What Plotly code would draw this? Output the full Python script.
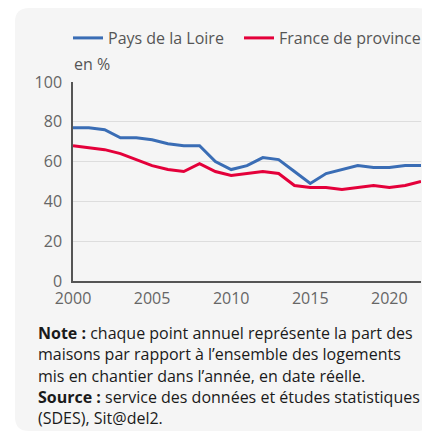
import plotly.graph_objects as go

# data (share of houses in housing starts, %)
years = list(range(2000, 2023))
pays_de_la_loire = [77, 77, 76, 72, 72, 71, 69, 68, 68, 60, 56, 58, 62, 61,
                    55, 49, 54, 56, 58, 57, 57, 58, 58]
france_province = [68, 67, 66, 64, 61, 58, 56, 55, 59, 55, 53, 54, 55, 54,
                   48, 47, 47, 46, 47, 48, 47, 48, 50]

y_ticks = [0, 20, 40, 60, 80, 100]
x_ticks = [2000, 2005, 2010, 2015, 2020]

note_lines = [
    "<b>Note :</b> chaque point annuel représente la part des",
    "maisons par rapport à l’ensemble des logements",
    "mis en chantier dans l’année, en date réelle.",
    "<b>Source :</b> service des données et études statistiques",
    "(SDES), Sit@del2.",
]

# the page puts the figure 8px in from the top-left corner
OFF = 8
W, H = 430, 432
L, T = 73 - OFF, 82 - OFF
R, B = W - (421 - OFF), H - (281 - OFF)
pw, ph = W - L - R, H - T - B


def px_x(x):
    # screen pixel -> paper x
    return (x - OFF - L) / pw


def px_y(y):
    # screen pixel -> paper y
    return (H - B - (y - OFF)) / ph


FONT = "Open Sans"
BLUE = "#3a6db5"
RED = "#e4003a"

fig = go.Figure()
fig.add_trace(go.Scatter(x=years, y=pays_de_la_loire, name="Pays de la Loire",
                         mode="lines", line=dict(color=BLUE, width=3),
                         legend="legend"))
fig.add_trace(go.Scatter(x=years, y=france_province, name="France de province",
                         mode="lines", line=dict(color=RED, width=3),
                         legend="legend2"))

# rounded grey panel behind everything
x0, x1 = px_x(15), px_x(431)
y0, y1 = px_y(431), px_y(8)
rx, ry = 14 / pw, 14 / ph
panel = (f"M {x0+rx},{y1} L {x1-rx},{y1} Q {x1},{y1} {x1},{y1-ry} "
         f"L {x1},{y0+ry} Q {x1},{y0} {x1-rx},{y0} L {x0+rx},{y0} "
         f"Q {x0},{y0} {x0},{y0+ry} L {x0},{y1-ry} Q {x0},{y1} {x0+rx},{y1} Z")
fig.add_shape(type="path", path=panel, xref="paper", yref="paper",
              fillcolor="#f5f5f5", line_width=0, layer="below")

annotations = [dict(text="en %", x=px_x(72), y=px_y(64), xref="paper",
                    yref="paper", xanchor="left", yanchor="middle",
                    showarrow=False, font=dict(family=FONT, size=16,
                                               color="#555555"))]
for i, line in enumerate(note_lines):
    annotations.append(dict(text=line, x=px_x(36), y=px_y(333 + i * 21.3),
                            xref="paper", yref="paper", xanchor="left",
                            yanchor="middle", showarrow=False,
                            font=dict(family=FONT, size=16, color="#1a1a1a")))

legend_style = dict(orientation="h", yanchor="middle", xanchor="left",
                    bgcolor="rgba(0,0,0,0)",
                    font=dict(family=FONT, size=16, color="#555555"))

fig.update_layout(
    width=W, height=H,
    margin=dict(l=L, r=R, t=T, b=B, autoexpand=False),
    paper_bgcolor="white",
    plot_bgcolor="rgba(0,0,0,0)",
    font=dict(family=FONT, size=16, color="#666666"),
    showlegend=True,
    legend=dict(x=px_x(68), y=px_y(38), **legend_style),
    legend2=dict(x=px_x(239), y=px_y(38), **legend_style),
    annotations=annotations,
    xaxis=dict(range=[2000, 2022], tickvals=x_ticks, showgrid=False,
               showline=True, linecolor="#555555", linewidth=1.5,
               zeroline=False, ticks="", ticklabelstandoff=2,
               tickfont=dict(family=FONT, size=16, color="#666666")),
    yaxis=dict(range=[0, 100], tickvals=y_ticks, showgrid=True,
               gridcolor="#dddddd", gridwidth=1, showline=True,
               linecolor="#555555", linewidth=1.5, zeroline=False, ticks="",
               ticklabelstandoff=6,
               tickfont=dict(family=FONT, size=16, color="#666666")),
)

fig.write_html("out.html")
